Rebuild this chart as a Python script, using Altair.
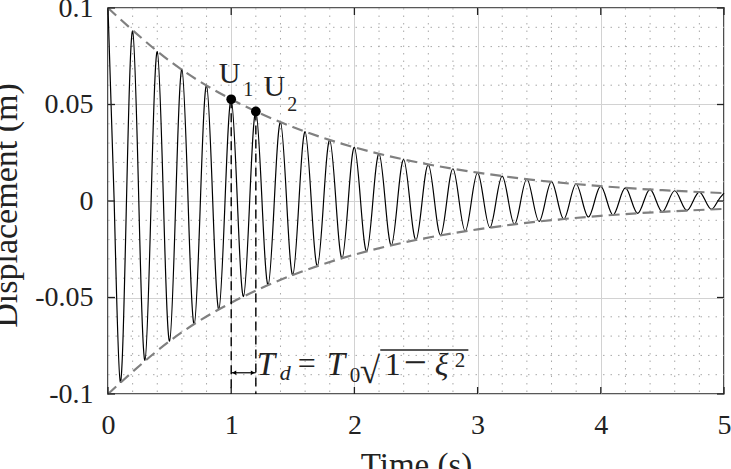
import altair as alt
import pandas as pd

# ---------------- values ----------------
# times of successive peaks / troughs (s) and their displacement (m)
extrema_t = [0.0, 0.1, 0.2, 0.3, 0.4, 0.5, 0.6, 0.7, 0.8, 0.9,
             1.0, 1.1, 1.2, 1.3, 1.4, 1.5, 1.6, 1.7, 1.8, 1.9,
             2.0, 2.1, 2.2, 2.3, 2.4, 2.5, 2.6, 2.7, 2.8, 2.9,
             3.0, 3.1, 3.2, 3.3, 3.4, 3.5, 3.6, 3.7, 3.8, 3.9,
             4.0, 4.1, 4.2, 4.3, 4.4, 4.5, 4.6, 4.7, 4.8, 4.9, 5.0]
extrema_y = [0.1000, -0.0938, 0.0880, -0.0825, 0.0774, -0.0726, 0.0681, -0.0639, 0.0599, -0.0562,
             0.0527, -0.0495, 0.0464, -0.0435, 0.0408, -0.0383, 0.0359, -0.0337, 0.0316, -0.0297,
             0.0278, -0.0261, 0.0245, -0.0230, 0.0215, -0.0202, 0.0189, -0.0178, 0.0167, -0.0156,
             0.0147, -0.0138, 0.0129, -0.0121, 0.0114, -0.0106, 0.0100, -0.0094, 0.0088, -0.0083,
             0.0077, -0.0073, 0.0068, -0.0064, 0.0060, -0.0056, 0.0053, -0.0049, 0.0046, -0.0043, 0.0041]
# zero crossings (s)
zero_t = [0.05, 0.15, 0.25, 0.35, 0.45, 0.55, 0.65, 0.75, 0.85, 0.95,
          1.05, 1.15, 1.25, 1.35, 1.45, 1.55, 1.65, 1.75, 1.85, 1.95,
          2.05, 2.15, 2.25, 2.35, 2.45, 2.55, 2.65, 2.75, 2.85, 2.95,
          3.05, 3.15, 3.25, 3.35, 3.45, 3.55, 3.65, 3.75, 3.85, 3.95,
          4.05, 4.15, 4.25, 4.35, 4.45, 4.55, 4.65, 4.75, 4.85, 4.95]

# decay envelope (dashed grey)
env_t = [0.0, 0.5, 1.0, 1.5, 2.0, 2.5, 3.0, 3.5, 4.0, 4.5, 5.0]
env_amp = [0.1, 0.0726, 0.0527, 0.0383, 0.0278, 0.0202, 0.0147, 0.0106, 0.0077, 0.0056, 0.0041]

# marked peaks U1, U2
marker_t = [1.0, 1.2]
marker_y = [0.0527, 0.0464]
marker_sub = ["1", "2"]

# dimension line for Td and overline of the square root
dim_y = -0.089
overline_t = [2.21, 2.925]
overline_y = -0.0772

x_ticks = [0, 1, 2, 3, 4, 5]
y_ticks = [-0.1, -0.05, 0, 0.05, 0.1]
x_minor = [round(0.2 * i, 1) for i in range(1, 25) if i % 5]
y_minor = [round(-0.1 + 0.01 * i, 2) for i in range(1, 20) if i % 5]

# ---------------- styling ----------------
W, H = 616, 386
FONT = "Liberation Serif"
INK = "#222222"
TICK = 7

xs = alt.Scale(domain=[0, 5], nice=False, zero=False)
ys = alt.Scale(domain=[-0.1, 0.1], nice=False, zero=False)

xaxis = alt.Axis(values=x_ticks, title="Time (s)", grid=True, gridColor="#d2d2d2", gridWidth=1,
                 ticks=False, domain=False, labelFlush=False, labelPadding=17,
                 labelFont=FONT, labelFontSize=28, labelColor=INK,
                 titleFont=FONT, titleFontSize=33, titleFontWeight="normal", titleColor=INK,
                 titleY=81, titleBaseline="alphabetic")
yaxis = alt.Axis(values=y_ticks, title="Displacement (m)", grid=True, gridColor="#d2d2d2", gridWidth=1,
                 ticks=False, domain=False, labelPadding=15,
                 labelExpr="datum.value < 0 ? '-' + format(-datum.value, '~g') : format(datum.value, '~g')",
                 labelFont=FONT, labelFontSize=28, labelColor=INK,
                 titleFont=FONT, titleFontSize=34, titleFontWeight="normal", titleColor=INK,
                 titleAngle=270, titleX=-92, titleY=197, titleAlign="center", titleBaseline="alphabetic")

X = lambda f="t": alt.X(f"{f}:Q", scale=xs, axis=xaxis)
Y = lambda f="y": alt.Y(f"{f}:Q", scale=ys, axis=yaxis)

# ---------------- data tables ----------------
wave_df = pd.DataFrame({"t": extrema_t + zero_t,
                        "y": extrema_y + [0.0] * len(zero_t)}).sort_values("t")
env_df = pd.DataFrame({"t": env_t + env_t,
                       "y": env_amp + [-a for a in env_amp],
                       "side": ["up"] * len(env_t) + ["down"] * len(env_t)})
mk_df = pd.DataFrame({"t": marker_t, "y": marker_y, "ybot": [y_ticks[0]] * 2})
xmin_df = pd.DataFrame({"t": x_minor})
ymin_df = pd.DataFrame({"y": y_minor})
xt_df = pd.DataFrame({"t": x_ticks})
yt_df = pd.DataFrame({"y": y_ticks})

dotted = dict(color="#a8a8a8", strokeWidth=1, strokeDash=[1.5, 6])
minor_v = alt.Chart(xmin_df).mark_rule(**dotted).encode(x=X(), y=alt.value(0), y2=alt.value(H))
minor_h = alt.Chart(ymin_df).mark_rule(**dotted).encode(y=Y(), x=alt.value(0), x2=alt.value(W))

wave = alt.Chart(wave_df).mark_line(color="black", strokeWidth=1.2, interpolate="natural").encode(x=X(), y=Y())
env = alt.Chart(env_df).mark_line(color="#808080", strokeWidth=2.2, strokeDash=[11, 6],
                                  interpolate="natural").encode(x=X(), y=Y(), detail="side:N")

vlines = alt.Chart(mk_df).mark_rule(color="black", strokeWidth=1.4, strokeDash=[9, 5]).encode(
    x=X(), y=Y(), y2="ybot:Q")
dots = alt.Chart(mk_df).mark_circle(size=95, color="black", opacity=1).encode(x=X(), y=Y())

layers = [minor_v, minor_h, wave, env, vlines, dots]

u_offsets = [(-1.5, -16, 17, -3), (18.5, -15, 36.5, 0)]
for i in range(2):
    one = mk_df.iloc[[i]]
    du, dvu, ds, dvs = u_offsets[i]
    layers.append(alt.Chart(one).mark_text(text="U", font=FONT, fontSize=30, color=INK, align="center",
                                           baseline="alphabetic", dx=du, dy=dvu).encode(x=X(), y=Y()))
    layers.append(alt.Chart(one).mark_text(text=marker_sub[i], font=FONT, fontSize=20, color=INK,
                                           align="center", baseline="alphabetic", dx=ds, dy=dvs).encode(x=X(), y=Y()))

# dimension arrow between the two peaks
dim_df = pd.DataFrame({"t": [marker_t[0]], "t2": [marker_t[1]], "y": [dim_y]})
layers.append(alt.Chart(dim_df).mark_rule(color="black", strokeWidth=1.2).encode(x=X(), x2="t2:Q", y=Y()))
arr_df = pd.DataFrame({"t": marker_t, "y": [dim_y, dim_y]})
layers.append(alt.Chart(arr_df.iloc[[0]]).mark_point(shape="triangle-left", size=22, filled=True, color="black",
                                                      opacity=1, xOffset=3).encode(x=X(), y=Y()))
layers.append(alt.Chart(arr_df.iloc[[1]]).mark_point(shape="triangle-right", size=22, filled=True, color="black",
                                                      opacity=1, xOffset=-3).encode(x=X(), y=Y()))

# formula  T_d = T_0 sqrt(1 - xi^2)
anchor = pd.DataFrame({"t": [marker_t[1]], "y": [dim_y]})
pieces = [("T", 1, 2, 33, "italic"), ("d", 24, 7, 22, "italic"), ("=", 42, 1, 32, "normal"),
          ("T", 71, 2, 33, "italic"), ("0", 94, 9, 21, "normal"), ("√", 104, 10, 37, "normal"),
          ("1", 129, 2, 32, "normal"), ("−", 148, 3, 41, "normal"), ("ξ", 179, 2, 32, "italic"),
          ("2", 199, -6, 21, "normal")]
for txt, dx, dy, fs, st in pieces:
    layers.append(alt.Chart(anchor).mark_text(text=txt, font=FONT, fontSize=fs, fontStyle=st, color=INK,
                                              align="left", baseline="alphabetic", dx=dx, dy=dy).encode(x=X(), y=Y()))
ol_df = pd.DataFrame({"t": [overline_t[0]], "t2": [overline_t[1]], "y": [overline_y]})
layers.append(alt.Chart(ol_df).mark_rule(color=INK, strokeWidth=1.3).encode(x=X(), x2="t2:Q", y=Y()))

# inward ticks on all four sides
tk = dict(color=INK, strokeWidth=1.3)
layers += [
    alt.Chart(xt_df).mark_rule(**tk).encode(x=X(), y=alt.value(H), y2=alt.value(H - TICK)),
    alt.Chart(xt_df).mark_rule(**tk).encode(x=X(), y=alt.value(0), y2=alt.value(TICK)),
    alt.Chart(yt_df).mark_rule(**tk).encode(y=Y(), x=alt.value(0), x2=alt.value(TICK)),
    alt.Chart(yt_df).mark_rule(**tk).encode(y=Y(), x=alt.value(W), x2=alt.value(W - TICK)),
]

chart = alt.layer(*layers).properties(
    width=W, height=H,
    autosize=alt.AutoSizeParams(type="none"),
    padding={"left": 108, "top": 8, "right": 7, "bottom": 75},
).configure_view(stroke="#222222", strokeWidth=1.6)

chart.save("out.html", embed_options={"renderer": "svg", "actions": False})
